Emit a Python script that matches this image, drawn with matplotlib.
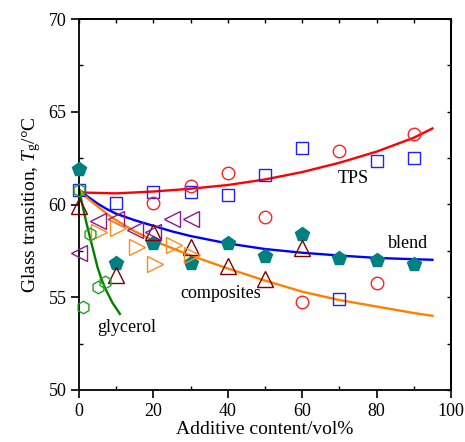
import matplotlib
matplotlib.use("Agg")
import matplotlib.pyplot as plt
from matplotlib.ticker import MultipleLocator

plt.rcParams['font.family'] = ['Liberation Serif', 'DejaVu Serif']
plt.rcParams['mathtext.fontset'] = 'custom'
plt.rcParams['mathtext.rm'] = 'Liberation Serif'
plt.rcParams['mathtext.it'] = 'Liberation Serif:italic'

# ---- data ----
tps_sq_x = [0, 10, 20, 30, 40, 50, 60, 70, 80, 90]
tps_sq_y = [60.8, 60.1, 60.7, 60.7, 60.5, 61.6, 63.05, 54.9, 62.35, 62.5]

tps_ci_x = [20, 30, 40, 50, 60, 70, 80, 90]
tps_ci_y = [60.1, 61.0, 61.7, 59.3, 54.75, 62.9, 55.75, 63.8]

blend_x = [0, 10, 20, 30, 40, 50, 60, 70, 80, 90]
blend_y = [61.9, 56.85, 57.9, 56.85, 57.9, 57.2, 58.4, 57.1, 57.0, 56.8]

tri_x = [0, 10, 20, 30, 40, 50, 60]
tri_y = [59.9, 56.2, 58.5, 57.7, 56.7, 56.0, 57.65]

left_x = [0, 5, 10, 15, 20, 25, 30]
left_y = [57.4, 59.1, 59.2, 58.6, 58.5, 59.2, 59.2]

right_x = [5.5, 10.5, 15.5, 20.5, 25.5, 30.5]
right_y = [58.5, 58.75, 57.7, 56.8, 57.8, 57.3]

hex_x = [0, 1, 3, 5, 7]
hex_y = [60.8, 54.5, 58.4, 55.55, 55.8]

# fitted curves
tps_cx = [0, 10, 20, 30, 40, 50, 60, 70, 80, 90, 95]
tps_cy = [60.65, 60.6, 60.7, 60.85, 61.05, 61.35, 61.75, 62.25, 62.85, 63.6, 64.1]

blend_cx = [0, 2.5, 5, 7.5, 10, 15, 20, 25, 30, 35, 40, 50, 60, 70, 80, 90, 95]
blend_cy = [60.8, 60.4, 60.05, 59.75, 59.5, 59.15, 58.85, 58.55, 58.3, 58.1, 57.9, 57.6,
            57.4, 57.25, 57.12, 57.05, 57.02]

comp_cx = [0, 2.5, 5, 7.5, 10, 15, 20, 25, 30, 35, 40, 50, 60, 70, 80, 90, 95]
comp_cy = [60.8, 60.3, 59.9, 59.5, 59.15, 58.55, 58.05, 57.65, 57.25, 56.9, 56.55, 55.9,
           55.3, 54.85, 54.5, 54.15, 54.0]

gly_cx = [0, 1, 2, 3, 4, 5, 6, 7, 8, 9, 10, 11]
gly_cy = [60.8, 59.9, 59.0, 58.2, 57.4, 56.6, 56.0, 55.5, 55.1, 54.7, 54.4, 54.1]

# ---- figure ----
fig = plt.figure(figsize=(4.65, 4.42), dpi=100)
ax = fig.add_axes([79/465, 1 - 390/442, (451 - 79)/465, (390 - 19)/442])

lw = 1.7
ax.plot(tps_cx, tps_cy, color='#ff0000', lw=lw, zorder=2)
ax.plot(blend_cx, blend_cy, color='#0000ff', lw=lw, zorder=2)
ax.plot(comp_cx, comp_cy, color='#ff8000', lw=lw, zorder=2)
ax.plot(gly_cx, gly_cy, color='#008000', lw=lw, zorder=2)

ms = 9
tms = 11
kw = dict(linestyle='none', mew=1, zorder=3, clip_on=False)
ax.plot(tps_sq_x, tps_sq_y, 's', ms=8, mfc='none', mec='#2020ff', **kw)
ax.plot(tps_ci_x, tps_ci_y, 'o', ms=ms, mfc='none', mec='#ff2020', **kw)
ax.plot(blend_x, blend_y, 'p', ms=10, mfc='#008080', mec='#008080', **kw)
ax.plot(tri_x, tri_y, '^', ms=tms, mfc='none', mec='#800000', **kw)
ax.plot(left_x, left_y, '<', ms=tms, mfc='none', mec='#8b1a8b', **kw)
ax.plot(right_x, right_y, '>', ms=tms, mfc='none', mec='#ff8c1a', **kw)
ax.plot(hex_x, hex_y, 'h', ms=ms, mfc='none', mec='#20a020', **kw)

ax.text(73.7, 61.4, 'TPS', fontsize=13, ha='center', va='center')
ax.text(88.4, 57.9, 'blend', fontsize=13, ha='center', va='center')
ax.text(38.2, 55.2, 'composites', fontsize=13, ha='center', va='center')
ax.text(12.9, 53.35, 'glycerol', fontsize=13, ha='center', va='center')

ax.set_xlim(0, 100)
ax.set_ylim(50, 70)
ax.xaxis.set_major_locator(MultipleLocator(20))
ax.xaxis.set_minor_locator(MultipleLocator(10))
ax.yaxis.set_major_locator(MultipleLocator(5))
ax.yaxis.set_minor_locator(MultipleLocator(2.5))
ax.tick_params(which='major', direction='out', length=6, width=1.2, labelsize=13, pad=3)
ax.tick_params(which='minor', direction='in', length=3, width=1)

for s in ax.spines.values():
    s.set_linewidth(1.3)

top = ax.secondary_xaxis('top')
top.xaxis.set_major_locator(MultipleLocator(10))
top.tick_params(direction='in', length=3, width=1, labeltop=False)
right = ax.secondary_yaxis('right')
right.yaxis.set_major_locator(MultipleLocator(2.5))
right.tick_params(direction='in', length=3, width=1, labelright=False)
top.spines['top'].set_linewidth(1.3)
right.spines['right'].set_linewidth(1.3)

ax.set_xlabel('Additive content/vol%', fontsize=14, labelpad=1)
ax.set_ylabel(r'Glass transition, $\mathit{T}_\mathrm{g}$/°C', fontsize=14, labelpad=4)

fig.savefig('out.png', dpi=100)
